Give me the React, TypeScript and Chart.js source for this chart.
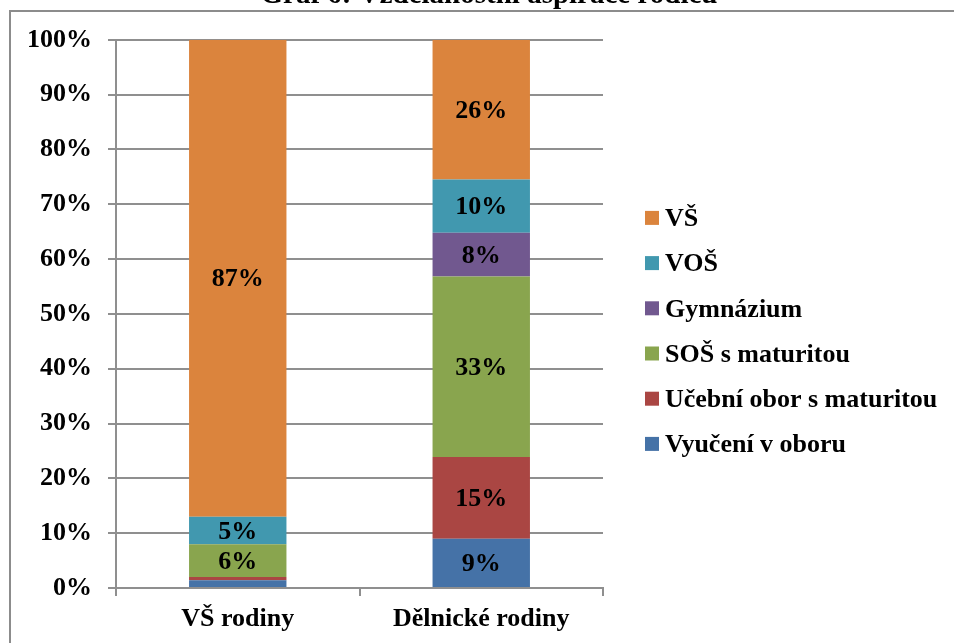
import { useEffect, useRef } from "react";
import { Chart, registerables } from "chart.js";

Chart.register(...registerables);

const titleText = "Graf 6: Vzdělanostní aspirace rodičů";
const categories = ["VŠ rodiny", "Dělnické rodiny"];
const seriesNames = [
  "Vyučení v oboru",
  "Učební obor s maturitou",
  "SOŠ s maturitou",
  "Gymnázium",
  "VOŠ",
  "VŠ",
];
const vyuceniVOboru = [1.4, 9.0];
const ucebniObor = [0.6, 14.9];
const sosSMaturitou = [6.0, 32.9];
const gymnazium = [0, 8.0];
const vos = [5.0, 9.7];
const vs = [87.0, 25.5];
const seriesColors = ["#4572A7", "#AA4643", "#89A54E", "#71588F", "#4198AF", "#DB843D"];

const FONT = "'Liberation Serif', 'Times New Roman', serif";
const GRID = "#8f8f8f";

const titleCenterPlugin = {
  id: "titleCenter",
  afterLayout(chart: any) {
    const t = chart.titleBlock;
    if (t) {
      t.left = 0;
      t.right = chart.width;
      t.width = chart.width;
    }
  },
};

const labelPlugin = {
  id: "segLabels",
  afterDatasetsDraw(chart: any) {
    const ctx = chart.ctx;
    ctx.save();
    ctx.font = `bold 26px ${FONT}`;
    ctx.fillStyle = "#000";
    ctx.textAlign = "center";
    ctx.textBaseline = "middle";
    chart.data.datasets.forEach((ds: any, di: number) => {
      const meta = chart.getDatasetMeta(di);
      meta.data.forEach((el: any, i: number) => {
        const v = ds.data[i];
        if (v < 3) return;
        const p = el.getProps(["x", "y", "base"], true);
        ctx.fillText(Math.round(v) + "%", p.x, (p.y + p.base) / 2 + 1.5);
      });
    });
    ctx.restore();
  },
};

const legendPlugin = {
  id: "sideLegend",
  afterDraw(chart: any) {
    const { ctx, chartArea } = chart;
    const ds = chart.data.datasets;
    const n = ds.length;
    const spacing = 45.2;
    const mid = (chartArea.top + chartArea.bottom) / 2 + 17;
    const x0 = chartArea.right + 42;
    ctx.save();
    ctx.font = `bold 26px ${FONT}`;
    ctx.textAlign = "left";
    ctx.textBaseline = "middle";
    for (let k = 0; k < n; k++) {
      const d = ds[n - 1 - k];
      const cy = mid + (k - (n - 1) / 2) * spacing;
      ctx.fillStyle = d.backgroundColor;
      ctx.fillRect(x0, cy - 7, 14, 14);
      ctx.fillStyle = "#000";
      ctx.fillText(d.label, x0 + 20, cy + 1.5);
    }
    ctx.restore();
  },
};

export default function App() {
  const ref = useRef<HTMLCanvasElement | null>(null);

  useEffect(() => {
    if (!ref.current) return;
    const values = [vyuceniVOboru, ucebniObor, sosSMaturitou, gymnazium, vos, vs];
    const chart = new Chart(ref.current, {
      type: "bar",
      data: {
        labels: categories,
        datasets: seriesNames.map((name, i) => ({
          label: name,
          data: values[i],
          backgroundColor: seriesColors[i],
          borderWidth: 0,
          barPercentage: 0.4,
          categoryPercentage: 1,
        })),
      },
      options: {
        responsive: false,
        animation: false,
        devicePixelRatio: 1,
        layout: { padding: { left: 16, right: 375, top: 0, bottom: 0 } },
        plugins: {
          legend: { display: false },
          tooltip: { enabled: false },
          title: {
            display: true,
            text: titleText,
            color: "#000",
            font: { family: FONT, size: 29, weight: "bold" },
            padding: { top: 18, bottom: 27 },
          },
        },
        scales: {
          x: {
            stacked: true,
            ticks: { color: "#000", font: { family: FONT, size: 26, weight: "bold" }, padding: 8 },
            grid: {
              display: true,
              drawOnChartArea: false,
              drawTicks: true,
              tickLength: 8,
              color: GRID,
              lineWidth: 2,
              offset: true,
            },
            border: { display: true, color: GRID, width: 2 },
            afterFit: (s: any) => {
              s.height = 60;
            },
          },
          y: {
            stacked: true,
            min: 0,
            max: 100,
            ticks: {
              stepSize: 10,
              color: "#000",
              font: { family: FONT, size: 26, weight: "bold" },
              padding: 16,
              callback: (v: any) => v + "%",
            },
            grid: { color: GRID, lineWidth: 2, tickLength: 8, drawTicks: true },
            border: { display: true, color: GRID, width: 2 },
            afterFit: (s: any) => {
              s.width = 100;
            },
          },
        },
      },
      plugins: [titleCenterPlugin, labelPlugin, legendPlugin],
    } as any);
    return () => chart.destroy();
  }, []);

  return (
    <div
      style={{
        position: "absolute",
        left: 0,
        top: 0,
        width: 954,
        height: 643,
        overflow: "hidden",
        background: "#fff",
      }}
    >
      <div
        style={{
          position: "absolute",
          left: 9,
          top: 10,
          width: 1000,
          height: 1000,
          borderTop: "2px solid #8c8c8c",
          borderLeft: "2px solid #8c8c8c",
        }}
      />
      <canvas
        ref={ref}
        width={978}
        height={688}
        style={{ position: "absolute", left: 0, top: -40, width: 978, height: 688 }}
      />
    </div>
  );
}
